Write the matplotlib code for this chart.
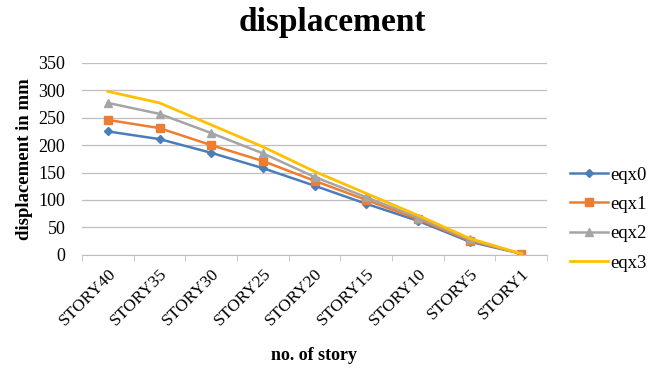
import matplotlib
matplotlib.use("Agg")
import matplotlib.pyplot as plt

stories = ["STORY40", "STORY35", "STORY30", "STORY25", "STORY20",
           "STORY15", "STORY10", "STORY5", "STORY1"]
eqx0 = [225, 211, 186, 158, 126, 93, 62, 24, 2]
eqx1 = [246, 231, 200, 171, 135, 100, 65, 26, 2]
eqx2 = [277, 257, 222, 185, 142, 105, 68, 28, 2]
eqx3 = [298, 277, 237, 197, 152, 112, 72, 30, 2]
y_ticks = [0, 50, 100, 150, 200, 250, 300, 350]

plt.rcParams['font.family'] = ['Liberation Serif', 'DejaVu Serif']

fig = plt.figure(figsize=(6.56, 3.72), dpi=100)
ax = fig.add_axes([0.125, 0.315, 0.709, 0.516])

x = range(len(stories))
ax.plot(x, eqx0, color='#4a7ebb', marker='D', markersize=4, lw=1.8, label='eqx0')
ax.plot(x, eqx1, color='#ed7d31', marker='s', markersize=5.5, lw=1.8, label='eqx1')
ax.plot(x, eqx2, color='#a5a5a5', marker='^', markersize=5.5, lw=1.8, label='eqx2')
ax.plot(x, eqx3, color='#ffc000', lw=2.0, label='eqx3')

ax.set_xlim(-0.5, len(stories) - 0.5)
ax.set_ylim(0, 350)
ax.set_yticks(y_ticks)
ax.tick_params(axis='y', length=0, labelsize=13, pad=12)
ax.set_xticks(x)
ax.set_xticklabels(stories, rotation=45, ha='right', rotation_mode='anchor', fontsize=12.5)
ax.set_xticks([i - 0.5 for i in range(len(stories) + 1)], minor=True)
ax.tick_params(axis='x', which='major', length=0, pad=8)
ax.tick_params(axis='x', which='minor', length=4, color='#bfbfbf')
ax.grid(axis='y', color='#bfbfbf', lw=0.9)
ax.set_axisbelow(True)
for side in ['top', 'right', 'left']:
    ax.spines[side].set_visible(False)
ax.spines['bottom'].set_color('#bfbfbf')

fig.text(0.507, 1 - 22 / 372, 'displacement', fontsize=24, fontweight='bold',
         ha='center', va='center')
fig.text(25 / 656, 1 - 159 / 372, 'displacement in mm', fontsize=13.5,
         fontweight='bold', rotation=90, ha='center', va='center')
fig.text(314 / 656, 1 - 356 / 372, 'no. of story', fontsize=13,
         fontweight='bold', ha='center', va='center')

handles, labels = ax.get_legend_handles_labels()
fig.legend(handles, labels, loc='center left', bbox_to_anchor=(570 / 656, 1 - 219 / 372),
           frameon=False, fontsize=13.5, handlelength=2.0, handletextpad=0.15,
           labelspacing=0.65, borderpad=0, borderaxespad=0)

fig.savefig('out.png', dpi=100)
